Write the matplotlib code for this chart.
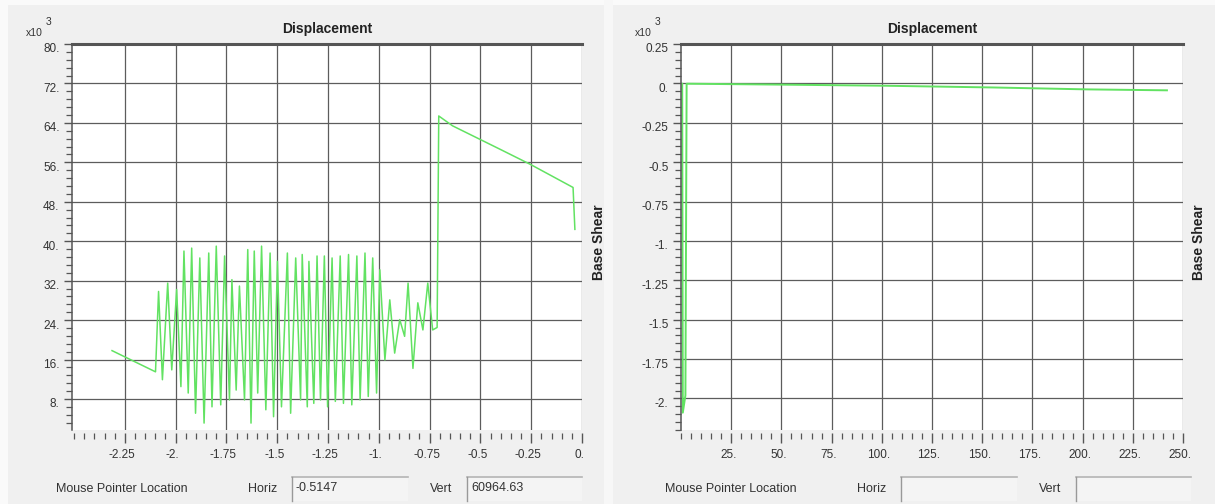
import matplotlib
matplotlib.use('Agg')
import matplotlib.pyplot as plt
from matplotlib.ticker import FixedLocator, MultipleLocator
from matplotlib.transforms import ScaledTranslation
from matplotlib.patches import Rectangle
from matplotlib.lines import Line2D

plt.rcParams['font.family'] = ['Liberation Sans', 'DejaVu Sans']

W, H = 1215, 504

# left chart: displacement vs base shear (x10^3)
left_disp = [-2.313, -2.099, -2.084, -2.065, -2.039, -2.019, -1.995, -1.974, -1.959, -1.938,
             -1.921, -1.902, -1.881, -1.860, -1.837, -1.821, -1.800, -1.778, -1.759, -1.735,
             -1.723, -1.702, -1.686, -1.661, -1.645, -1.629, -1.613, -1.596, -1.577, -1.556,
             -1.535, -1.518, -1.499, -1.479, -1.450, -1.434, -1.409, -1.385, -1.377, -1.352,
             -1.344, -1.320, -1.304, -1.287, -1.268, -1.252, -1.230, -1.214, -1.190, -1.174,
             -1.149, -1.133, -1.108, -1.092, -1.068, -1.052, -1.030, -1.011, -0.995, -0.970,
             -0.946, -0.922, -0.897, -0.873, -0.856, -0.832, -0.808, -0.783, -0.759, -0.735,
             -0.713, -0.705, -0.637, -0.401, -0.255, -0.044, -0.035]
left_shear = [17.8, 13.5, 29.8, 11.9, 31.5, 13.9, 30.2, 10.5, 38.0, 9.2,
              38.6, 5.1, 36.6, 3.1, 37.6, 6.4, 39.0, 6.8, 37.0, 7.8,
              32.2, 9.8, 30.9, 7.8, 38.3, 3.1, 38.0, 9.2, 39.0, 5.8,
              37.6, 4.4, 35.9, 6.4, 37.6, 5.1, 36.6, 7.8, 37.3, 6.4,
              35.9, 7.1, 37.0, 7.8, 37.0, 6.4, 36.6, 7.5, 37.0, 7.1,
              37.3, 6.8, 37.0, 7.8, 37.6, 8.5, 36.6, 9.2, 34.2, 15.9,
              28.1, 17.3, 24.1, 20.7, 31.5, 14.2, 27.5, 22.0, 31.5, 22.0,
              22.5, 65.4, 63.4, 58.6, 55.6, 50.9, 42.4]

left_xticks = [-2.25, -2.0, -1.75, -1.5, -1.25, -1.0, -0.75, -0.5, -0.25, 0.0]
left_xlabels = ['-2.25', '-2.', '-1.75', '-1.5', '-1.25', '-1.', '-0.75', '-0.5', '-0.25', '0.']
left_yticks = [8, 16, 24, 32, 40, 48, 56, 64, 72, 80]
left_ylabels = ['8.', '16.', '24.', '32.', '40.', '48.', '56.', '64.', '72.', '80.']

# right chart
right_disp = [0.6, 0.9, 2.2, 2.8, 51, 102, 156, 202, 242]
right_shear = [-0.002, -2.09, -1.98, -0.002, -0.008, -0.015, -0.026, -0.038, -0.044]

right_xticks = [25, 50, 75, 100, 125, 150, 175, 200, 225, 250]
right_xlabels = ['25.', '50.', '75.', '100.', '125.', '150.', '175.', '200.', '225.', '250.']
right_yticks = [-2.0, -1.75, -1.5, -1.25, -1.0, -0.75, -0.5, -0.25, 0.0, 0.25]
right_ylabels = ['-2.', '-1.75', '-1.5', '-1.25', '-1.', '-0.75', '-0.5', '-0.25', '0.', '0.25']

horiz_readout = '-0.5147'
vert_readout = '60964.63'

GREEN = '#62e262'
DARK = '#555555'

fig = plt.figure(figsize=(W / 100, H / 100), dpi=100)
fig.patch.set_facecolor('#f0f0f0')


def fx(px):
    return px / W


def fy(py):
    return 1 - py / H


# white margins / panel separation like the screenshot
fig.add_artist(Rectangle((0, fy(5)), 1, 5 / H, transform=fig.transFigure, color='#fafafa', lw=0, zorder=0))
fig.add_artist(Rectangle((0, 0), 8 / W, 1, transform=fig.transFigure, color='#fafafa', lw=0, zorder=0))
fig.add_artist(Rectangle((fx(604), 0), 9 / W, 1, transform=fig.transFigure, color='#f7f7f7', lw=0, zorder=0))


def style(ax, xticks, xlabels, xminor, yticks, ylabels, yminor, xlim, ylim):
    ax.set_facecolor('white')
    ax.set_xlim(*xlim)
    ax.set_ylim(*ylim)
    ax.xaxis.set_major_locator(FixedLocator(xticks))
    ax.yaxis.set_major_locator(FixedLocator(yticks))
    ax.xaxis.set_minor_locator(MultipleLocator(xminor))
    ax.yaxis.set_minor_locator(MultipleLocator(yminor))
    ax.set_xticklabels(xlabels, ha='right')
    ax.set_yticklabels(ylabels)
    ax.grid(True, which='major', color='#5c5c5c', lw=0.9)
    ax.spines['right'].set_visible(False)
    ax.spines['bottom'].set_position(('outward', 2))
    ax.spines['bottom'].set_color('none')
    ax.spines['top'].set_linewidth(2.2)
    ax.spines['top'].set_color(DARK)
    ax.spines['left'].set_linewidth(1.1)
    ax.spines['left'].set_color(DARK)
    ax.tick_params(axis='x', which='major', direction='out', length=7, width=1.0, color=DARK,
                   labelsize=8.5, labelcolor='#333333', pad=5)
    ax.tick_params(axis='x', which='minor', direction='out', length=4, width=0.9, color=DARK)
    ax.tick_params(axis='y', which='major', direction='out', length=6, width=1.0, color=DARK,
                   labelsize=8.5, labelcolor='#333333', pad=3)
    ax.tick_params(axis='y', which='minor', direction='out', length=4, width=0.9, color=DARK)
    ax.set_title('Displacement', fontweight='bold', fontsize=10, color='#222222', pad=8)
    for lbl in ax.get_xticklabels():
        lbl.set_transform(lbl.get_transform() + ScaledTranslation(-3 / 100, 0, fig.dpi_scale_trans))
    for lbl in ax.get_yticklabels():
        lbl.set_transform(lbl.get_transform() + ScaledTranslation(0, -4 / 100, fig.dpi_scale_trans))


ax1 = fig.add_axes([fx(72), fy(430), (582 - 72) / W, (430 - 44) / H])
ax1.plot(left_disp, left_shear, color=GREEN, lw=1.1)
style(ax1, left_xticks, left_xlabels, 0.05, left_yticks, left_ylabels, 1.6, (-2.51, 0.0), (1.7, 80))

ax2 = fig.add_axes([fx(681), fy(430), (1183 - 681) / W, (430 - 44) / H])
ax2.plot(right_disp, right_shear, color=GREEN, lw=1.4)
style(ax2, right_xticks, right_xlabels, 5, right_yticks, right_ylabels, 0.05, (0, 250), (-2.2, 0.25))

for off, ylab_x in ((0, 599), (609, 1199)):
    fig.text(fx(26 + off), fy(33), 'x10', fontsize=7.5, color='#333333', va='center')
    fig.text(fx(46 + off), fy(22), '3', fontsize=7.5, color='#333333', va='center')
    fig.text(fx(56 + off), fy(489), 'Mouse Pointer Location', fontsize=9, color='#333333', va='center')
    fig.text(fx(248 + off), fy(489), 'Horiz', fontsize=9, color='#333333', va='center')
    fig.text(fx(430 + off), fy(489), 'Vert', fontsize=9, color='#333333', va='center')
    for x0, x1 in ((292, 408), (467, 582)):
        fig.add_artist(Rectangle((fx(x0 + off), fy(501)), (x1 - x0) / W, 24 / H,
                                 transform=fig.transFigure, facecolor='#f4f4f4', lw=0))
        fig.add_artist(Line2D([fx(x0 + off), fx(x1 + off)], [fy(477), fy(477)],
                              transform=fig.transFigure, color='#b4b4b4', lw=1.2))
        fig.add_artist(Line2D([fx(x0 + off), fx(x0 + off)], [fy(477), fy(501)],
                              transform=fig.transFigure, color='#999999', lw=1.0))
    fig.text(fx(ylab_x), fy(242), 'Base Shear', fontsize=10, fontweight='bold',
             rotation=90, ha='center', va='center', color='#222222')

fig.text(fx(296), fy(488), horiz_readout, fontsize=9, color='#333333', va='center')
fig.text(fx(471), fy(488), vert_readout, fontsize=9, color='#333333', va='center')

fig.savefig('out.png', dpi=100, facecolor=fig.get_facecolor())
